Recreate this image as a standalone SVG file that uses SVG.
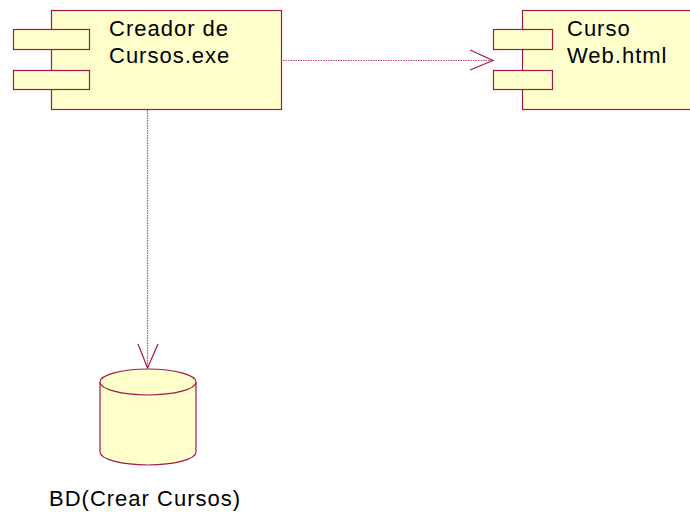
<svg xmlns="http://www.w3.org/2000/svg" width="690" height="512" viewBox="0 0 690 512">
  <style>
    .box { fill: #ffffcc; stroke: #a3174b; stroke-width: 1.2; }
    .label { font-family: "Liberation Sans", Arial, sans-serif; font-size: 22px; letter-spacing: 1px; fill: #000; }
    .dep { fill: none; stroke: #c0446e; stroke-width: 1.2; stroke-dasharray: 1.5 1; }
    .head { fill: none; stroke: #a3174b; stroke-width: 1.2; }
  </style>
  <rect width="690" height="512" fill="#ffffff"/>

  <g id="connectors">
    <line class="dep" x1="278" y1="60.5" x2="492" y2="60.5"/>
    <polyline class="head" points="470,50 493,60.5 470,70"/>
    <line class="dep" x1="147.5" y1="110" x2="147.5" y2="367"/>
    <polyline class="head" points="138,344 147.5,368 158,344"/>
  </g>

  <g id="creador">
    <rect class="box" x="51.5" y="10.5" width="230" height="99"/>
    <rect class="box" x="13.5" y="29.5" width="76" height="20"/>
    <rect class="box" x="13.5" y="70.5" width="76" height="19"/>
    <text class="label" x="109" y="35.5">Creador de</text>
    <text class="label" x="109" y="63">Cursos.exe</text>
  </g>

  <g id="curso-web">
    <rect class="box" x="522.5" y="10.5" width="180" height="99"/>
    <rect class="box" x="493.5" y="29.5" width="59" height="20"/>
    <rect class="box" x="493.5" y="70.5" width="59" height="19"/>
    <text class="label" x="567" y="35.5">Curso</text>
    <text class="label" x="567" y="63">Web.html</text>
  </g>

  <g id="bd">
    <path class="box" d="M100,382 L100,452 A48,13 0 0 0 196,452 L196,382"/>
    <ellipse class="box" cx="148" cy="382" rx="48" ry="13"/>
    <text class="label" x="49" y="506">BD(Crear Cursos)</text>
  </g>
</svg>
